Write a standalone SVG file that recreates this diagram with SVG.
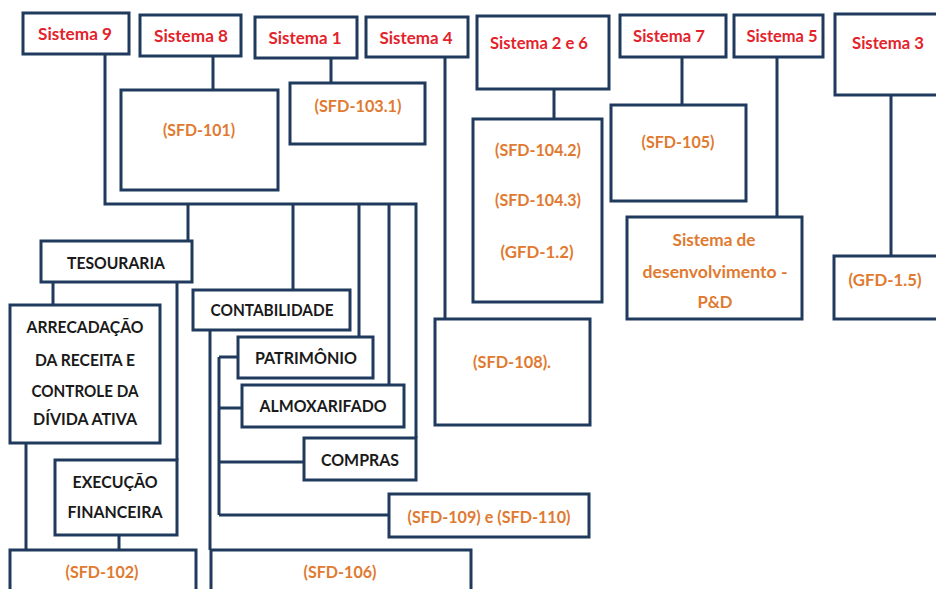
<svg xmlns="http://www.w3.org/2000/svg" width="936" height="589" viewBox="0 0 936 589">
<style>
.b{fill:#fff;stroke:#1f3a5c;stroke-width:3}
.c{fill:none;stroke:#1f3a5c;stroke-width:3}
text{font-family:Lato,"Liberation Sans",sans-serif;font-weight:bold;font-size:17.5px;text-anchor:middle}
.r{fill:#e3232b}
.o{fill:#e07a30}
.k{fill:#1a1a1a}
</style>
<rect width="936" height="589" fill="#fff"/>
<g id="connectors">
<path class="c" d="M105,54 V204 H416 V438"/>
<path class="c" d="M188,204 V241 M293,204 V290 M359,204 V343 M389,204 V397"/>
<path class="c" d="M213,56 V90 M331,58 V83 M445,57 V319 M554,89 V119 M682,57 V105 M777,57 V217 M891,95 V256"/>
<path class="c" d="M53,282 V305 M177,282 V460 M26,443 V550 M119,535 V550 M210,330 V550"/>
<path class="c" d="M219,357 V515 M219,357 H238 M219,408 H242 M219,462 H304 M219,515 H389"/>
</g>
<g id="sistema9"><rect class="b" x="23" y="13" width="106" height="41"/><text class="r" x="75" y="40" textLength="74" lengthAdjust="spacingAndGlyphs">Sistema 9</text></g>
<g id="sistema8"><rect class="b" x="140" y="15" width="101" height="41"/><text class="r" x="191" y="42" textLength="74" lengthAdjust="spacingAndGlyphs">Sistema 8</text></g>
<g id="sistema1"><rect class="b" x="255" y="17" width="102" height="41"/><text class="r" x="305" y="44" textLength="73" lengthAdjust="spacingAndGlyphs">Sistema 1</text></g>
<g id="sistema4"><rect class="b" x="366" y="17" width="102" height="40"/><text class="r" x="416" y="44" textLength="73" lengthAdjust="spacingAndGlyphs">Sistema 4</text></g>
<g id="sistema26"><rect class="b" x="477" y="16" width="132" height="73"/><text class="r" x="539" y="49" textLength="98" lengthAdjust="spacingAndGlyphs">Sistema 2 e 6</text></g>
<g id="sistema7"><rect class="b" x="620" y="15" width="106" height="42"/><text class="r" x="669" y="42" textLength="72" lengthAdjust="spacingAndGlyphs">Sistema 7</text></g>
<g id="sistema5"><rect class="b" x="734" y="15" width="89" height="42"/><text class="r" x="782" y="42" textLength="71" lengthAdjust="spacingAndGlyphs">Sistema 5</text></g>
<g id="sistema3"><rect class="b" x="835" y="14" width="106" height="81"/><text class="r" x="888" y="49" textLength="72" lengthAdjust="spacingAndGlyphs">Sistema 3</text></g>
<g id="sfd101"><rect class="b" x="121" y="90" width="157" height="100"/><text class="o" x="199" y="136" textLength="72" lengthAdjust="spacingAndGlyphs">(SFD-101)</text></g>
<g id="sfd1031"><rect class="b" x="290" y="83" width="135" height="61"/><text class="o" x="358" y="112" textLength="87" lengthAdjust="spacingAndGlyphs">(SFD-103.1)</text></g>
<g id="sfd104"><rect class="b" x="473" y="119" width="129" height="183"/><text class="o" x="538" y="156" textLength="86" lengthAdjust="spacingAndGlyphs">(SFD-104.2)</text><text class="o" x="538" y="206" textLength="86" lengthAdjust="spacingAndGlyphs">(SFD-104.3)</text><text class="o" x="537" y="258" textLength="73" lengthAdjust="spacingAndGlyphs">(GFD-1.2)</text></g>
<g id="sfd105"><rect class="b" x="611" y="105" width="135" height="96"/><text class="o" x="678" y="148" textLength="73" lengthAdjust="spacingAndGlyphs">(SFD-105)</text></g>
<g id="pd"><rect class="b" x="627" y="217" width="175" height="102"/><text class="o" x="714" y="246" textLength="83" lengthAdjust="spacingAndGlyphs">Sistema de</text><text class="o" x="715" y="278" textLength="145" lengthAdjust="spacingAndGlyphs">desenvolvimento -</text><text class="o" x="715" y="308" textLength="35" lengthAdjust="spacingAndGlyphs">P&amp;D</text></g>
<g id="gfd15"><rect class="b" x="834" y="256" width="106" height="63"/><text class="o" x="885" y="286" textLength="73" lengthAdjust="spacingAndGlyphs">(GFD-1.5)</text></g>
<g id="sfd108"><rect class="b" x="435" y="319" width="155" height="106"/><text class="o" x="512" y="368" textLength="78" lengthAdjust="spacingAndGlyphs">(SFD-108).</text></g>
<g id="tesouraria"><rect class="b" x="41" y="241" width="151" height="41"/><text class="k" x="116" y="269" textLength="98" lengthAdjust="spacingAndGlyphs">TESOURARIA</text></g>
<g id="arrecadacao"><rect class="b" x="10" y="305" width="150" height="138"/><text class="k" x="85" y="333" textLength="117" lengthAdjust="spacingAndGlyphs">ARRECADAÇÃO</text><text class="k" x="85" y="366" textLength="100" lengthAdjust="spacingAndGlyphs">DA RECEITA E</text><text class="k" x="85" y="397" textLength="107" lengthAdjust="spacingAndGlyphs">CONTROLE DA</text><text class="k" x="85" y="425" textLength="104" lengthAdjust="spacingAndGlyphs">DÍVIDA ATIVA</text></g>
<g id="execucao"><rect class="b" x="55" y="460" width="122" height="75"/><text class="k" x="115" y="488" textLength="85" lengthAdjust="spacingAndGlyphs">EXECUÇÃO</text><text class="k" x="115" y="518" textLength="95" lengthAdjust="spacingAndGlyphs">FINANCEIRA</text></g>
<g id="contabilidade"><rect class="b" x="193" y="290" width="157" height="40"/><text class="k" x="272" y="316" textLength="123" lengthAdjust="spacingAndGlyphs">CONTABILIDADE</text></g>
<g id="patrimonio"><rect class="b" x="238" y="337" width="135" height="41"/><text class="k" x="306" y="364" textLength="102" lengthAdjust="spacingAndGlyphs">PATRIMÔNIO</text></g>
<g id="almoxarifado"><rect class="b" x="242" y="385" width="162" height="42"/><text class="k" x="323" y="412" textLength="127" lengthAdjust="spacingAndGlyphs">ALMOXARIFADO</text></g>
<g id="compras"><rect class="b" x="304" y="438" width="112" height="42"/><text class="k" x="360" y="466" textLength="78" lengthAdjust="spacingAndGlyphs">COMPRAS</text></g>
<g id="sfd109110"><rect class="b" x="389" y="494" width="200" height="43"/><text class="o" x="489" y="523" textLength="163" lengthAdjust="spacingAndGlyphs">(SFD-109) e (SFD-110)</text></g>
<g id="sfd102"><rect class="b" x="10" y="550" width="186" height="50"/><text class="o" x="102" y="578" textLength="73" lengthAdjust="spacingAndGlyphs">(SFD-102)</text></g>
<g id="sfd106"><rect class="b" x="211" y="550" width="260" height="50"/><text class="o" x="340" y="578" textLength="73" lengthAdjust="spacingAndGlyphs">(SFD-106)</text></g>
</svg>
